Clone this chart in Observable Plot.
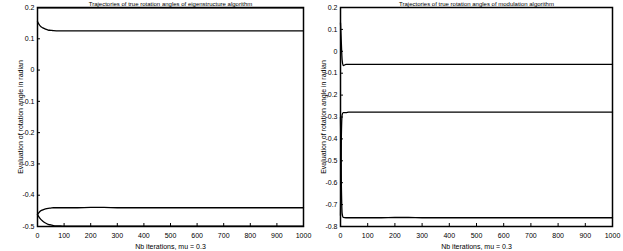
<!DOCTYPE html>
<html>
<head>
<meta charset="utf-8">
<script src="https://cdn.jsdelivr.net/npm/d3@7"></script>
<script src="https://cdn.jsdelivr.net/npm/@observablehq/plot@0.6"></script>
<style>
  html, body { margin: 0; padding: 0; background: #fff; }
  #wrap { position: relative; width: 623px; height: 251px; overflow: hidden; }
  #left, #right { position: absolute; top: 0; }
  #left { left: 0; }
  #right { left: 310px; }
  svg { font-family: "Liberation Sans", Arial, sans-serif; overflow: visible; }
</style>
</head>
<body>
<div id="wrap"><div id="left"></div><div id="right"></div></div>
<script>
// ---- data ----
const iterations = [0, 3, 6, 10, 20, 30, 40, 50, 60, 80, 100, 150, 200, 250, 300, 400, 500, 600, 700, 800, 900, 1000];

// Left panel: eigenstructure algorithm
const eigA = [0.199, 0.199, 0.199, 0.199, 0.199, 0.199, 0.199, 0.199, 0.199, 0.199, 0.199, 0.199, 0.199, 0.199, 0.199, 0.199, 0.199, 0.199, 0.199, 0.199, 0.199, 0.199];
const eigB = [0.155, 0.150, 0.146, 0.141, 0.135, 0.131, 0.128, 0.127, 0.126, 0.125, 0.125, 0.125, 0.125, 0.125, 0.125, 0.125, 0.125, 0.125, 0.125, 0.125, 0.125, 0.125];
const eigC = [-0.462, -0.458, -0.455, -0.451, -0.447, -0.444, -0.442, -0.441, -0.440, -0.440, -0.440, -0.440, -0.439, -0.439, -0.440, -0.440, -0.440, -0.440, -0.440, -0.440, -0.440, -0.440];
const eigD = [-0.462, -0.466, -0.470, -0.475, -0.483, -0.489, -0.493, -0.495, -0.497, -0.498, -0.499, -0.499, -0.499, -0.499, -0.499, -0.499, -0.499, -0.499, -0.499, -0.499, -0.499, -0.499];

// Right panel: modulation algorithm
const modA = [0.13, 0.04, -0.04, -0.065, -0.060, -0.060, -0.060, -0.060, -0.060, -0.060, -0.060, -0.060, -0.060, -0.060, -0.060, -0.060, -0.060, -0.060, -0.060, -0.060, -0.060, -0.060];
const modB = [-0.75, -0.40, -0.29, -0.28, -0.280, -0.278, -0.278, -0.278, -0.278, -0.278, -0.278, -0.278, -0.278, -0.278, -0.278, -0.278, -0.278, -0.278, -0.278, -0.278, -0.278, -0.278];
const modC = [-0.30, -0.60, -0.74, -0.758, -0.760, -0.760, -0.760, -0.760, -0.760, -0.760, -0.760, -0.760, -0.759, -0.759, -0.760, -0.760, -0.760, -0.760, -0.760, -0.760, -0.760, -0.760];

const xTicks = [0, 100, 200, 300, 400, 500, 600, 700, 800, 900, 1000];
const yTicksLeft = [0.2, 0.1, 0, -0.1, -0.2, -0.3, -0.4, -0.5];
const yTicksRight = [0.2, 0.1, 0, -0.1, -0.2, -0.3, -0.4, -0.5, -0.6, -0.7, -0.8];

const titleLeft = "Trajectories of true rotation angles of eigenstructure algorithm";
const titleRight = "Trajectories of true rotation angles of modulation algorithm";
const yLabel = "Evaluation of rotation angle in radian";
const xLabel = "Nb iterations, mu = 0.3";

function toRows(series) {
  const rows = [];
  series.forEach((vals, s) => vals.forEach((v, i) => rows.push({s, x: iterations[i], y: v})));
  return rows;
}
const fmtY = d => (Math.round(d * 10) / 10).toString();
const fmtX = d => String(d);

function panel({series, yDomain, yTicks, title, width, marginLeft, marginRight}) {
  return Plot.plot({
    width, height: 251,
    marginLeft, marginRight, marginTop: 7, marginBottom: 25,
    style: {fontSize: "7px", fontFamily: "Liberation Sans, Arial, sans-serif", color: "#000", overflow: "visible"},
    x: {domain: [0, 1000], ticks: xTicks, tickFormat: fmtX, tickSize: -3, tickPadding: 10,
        label: xLabel, labelAnchor: "center", labelOffset: 22, labelArrow: "none"},
    y: {domain: yDomain, ticks: yTicks, tickFormat: fmtY, tickSize: -3, tickPadding: 6,
        label: yLabel, labelAnchor: "center", labelOffset: 19, labelArrow: "none"},
    marks: [
      Plot.line(toRows(series), {x: "x", y: "y", z: "s", stroke: "#000", strokeWidth: 1.3, curve: "monotone-x"}),
      Plot.frame({stroke: "#000", strokeWidth: 1.5}),
      Plot.text([title], {frameAnchor: "top", dy: -2, lineAnchor: "bottom", text: d => d, fontSize: 6, fill: "#000"})
    ]
  });
}

document.getElementById("left").append(panel({
  series: [eigA, eigB, eigC, eigD], yDomain: [-0.5, 0.2], yTicks: yTicksLeft,
  title: titleLeft, width: 310, marginLeft: 37, marginRight: 7
}));
document.getElementById("right").append(panel({
  series: [modA, modB, modC], yDomain: [-0.8, 0.2], yTicks: yTicksRight,
  title: titleRight, width: 313, marginLeft: 30, marginRight: 11
}));
</script>
</body>
</html>
